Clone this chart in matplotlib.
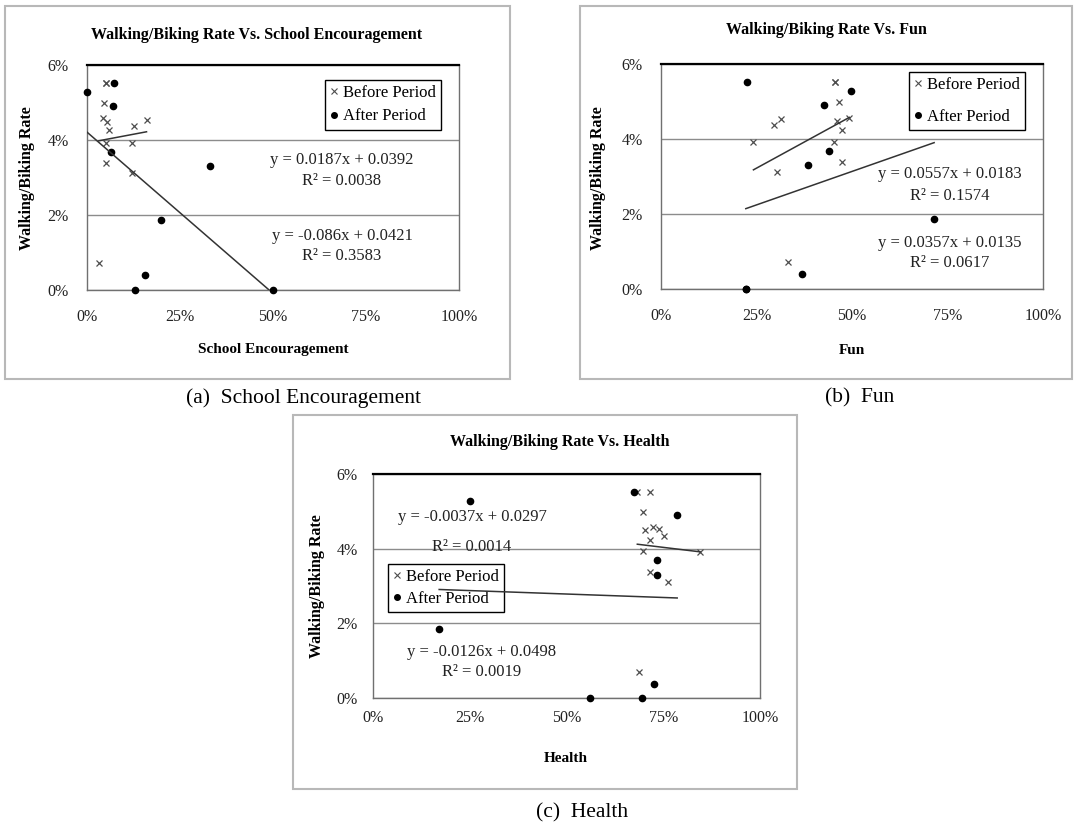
import numpy as np
import matplotlib
matplotlib.use('Agg')
import matplotlib.pyplot as plt
from matplotlib.patches import Rectangle
from matplotlib.ticker import PercentFormatter
from matplotlib.lines import Line2D

plt.rcParams['font.family'] = ['Liberation Serif', 'DejaVu Serif']

W, H = 1074, 826

#%% data (x = share of answers, y = walking/biking rate)
school_before_x = [0.051, 0.051, 0.047, 0.044, 0.055, 0.059, 0.051, 0.051, 0.125, 0.160, 0.122, 0.122, 0.032]
school_before_y = [0.0553, 0.0553, 0.0498, 0.0458, 0.0449, 0.0427, 0.0393, 0.0338, 0.0436, 0.0453, 0.0393, 0.0311, 0.0071]
school_after_x = [0.0, 0.073, 0.071, 0.064, 0.331, 0.199, 0.157, 0.129, 0.501]
school_after_y = [0.0529, 0.0553, 0.0491, 0.0369, 0.0331, 0.0188, 0.0039, 0.0, 0.0]

fun_before_x = [0.456, 0.456, 0.467, 0.313, 0.460, 0.474, 0.242, 0.454, 0.474, 0.296, 0.493, 0.303, 0.333]
fun_before_y = [0.0553, 0.0553, 0.0498, 0.0453, 0.0449, 0.0425, 0.0393, 0.0393, 0.0338, 0.0436, 0.0456, 0.0311, 0.0071]
fun_after_x = [0.224, 0.497, 0.427, 0.441, 0.384, 0.715, 0.368, 0.222, 0.222]
fun_after_y = [0.0553, 0.0528, 0.0491, 0.0369, 0.0331, 0.0188, 0.0039, 0.0, 0.0]

health_before_x = [0.683, 0.716, 0.698, 0.703, 0.723, 0.740, 0.753, 0.716, 0.698, 0.845, 0.716, 0.763, 0.688]
health_before_y = [0.0553, 0.0551, 0.0499, 0.0451, 0.0457, 0.0453, 0.0435, 0.0424, 0.0393, 0.0391, 0.0338, 0.0310, 0.0069]
health_after_x = [0.251, 0.674, 0.786, 0.733, 0.733, 0.171, 0.727, 0.561, 0.696]
health_after_y = [0.0529, 0.0553, 0.0491, 0.0369, 0.0330, 0.0186, 0.0038, 0.0, 0.0]

#trendlines (slope, intercept, R2) as printed on the chart
school_fit_before = (0.0187, 0.0392, '0.0038')
school_fit_after = (-0.086, 0.0421, '0.3583')
fun_fit_before = (0.0557, 0.0183, '0.1574')
fun_fit_after = (0.0357, 0.0135, '0.0617')
health_fit_before = (-0.0126, 0.0498, '0.0019')
health_fit_after = (-0.0037, 0.0297, '0.0014')

titles = ['Walking/Biking Rate Vs. School Encouragement',
          'Walking/Biking Rate Vs. Fun',
          'Walking/Biking Rate Vs. Health']
xlabels = ['School Encouragement', 'Fun', 'Health']
captions = ['(a)  School Encouragement', '(b)  Fun', '(c)  Health']
xticks = [0, 0.25, 0.5, 0.75, 1.0]
yticks = [0, 0.02, 0.04, 0.06]

#%% helpers, pixel -> figure fraction
def fx(px):
    return px/W

def fy(py):
    return 1 - py/H

def eq_text(fit):
    m, b, r2 = fit
    return 'y = %gx + %g' % (m, b), 'R² = ' + r2

fig = plt.figure(figsize=(W/100, H/100), dpi=100)

#panel layout in pixels: plot area, chart frame, text anchors
panels = [
    dict(area=(87, 65, 459, 290), frame=(5, 6, 510, 379), title=(257, 35), ylab=(27, 178),
         xlab=(273, 350), cap=(304, 398), xpad=14, ypad=13,
         leg=(325, 80), legsp=0.45,
         eqb=(342, 160, 181), eqa=(342, 236, 256),
         bx=school_before_x, by=school_before_y, ax_=school_after_x, ay=school_after_y,
         fb=school_fit_before, fa=school_fit_after),
    dict(area=(661, 64, 1043, 289), frame=(580, 6, 1072, 379), title=(826, 30), ylab=(598, 178),
         xlab=(852, 350), cap=(860, 398), xpad=14, ypad=13,
         leg=(909, 72), legsp=0.95,
         eqb=(950, 174, 196), eqa=(950, 243, 263),
         bx=fun_before_x, by=fun_before_y, ax_=fun_after_x, ay=fun_after_y,
         fb=fun_fit_before, fa=fun_fit_after),
    dict(area=(373, 474, 760, 698), frame=(293, 415, 797, 789), title=(560, 442), ylab=(317, 586),
         xlab=(566, 758), cap=(582, 813), xpad=9, ypad=11,
         leg=(388, 564), legsp=0.35,
         eqb=(482, 652, 672), eqa=(472, 517, 547),
         bx=health_before_x, by=health_before_y, ax_=health_after_x, ay=health_after_y,
         fb=health_fit_before, fa=health_fit_after),
]

for i, p in enumerate(panels):
    #grey chart frame
    x0, y0, x1, y1 = p['frame']
    fig.patches.append(Rectangle((fx(x0), fy(y1)), fx(x1)-fx(x0), fy(y0)-fy(y1),
                                 transform=fig.transFigure, fill=False,
                                 edgecolor='#b8b8b8', lw=1.5))

    l, t, r, b = p['area']
    ax = fig.add_axes([fx(l), fy(b), fx(r)-fx(l), fy(t)-fy(b)])
    ax.set_xlim(0, 1)
    ax.set_ylim(0, 0.06)
    ax.set_xticks(xticks)
    ax.set_yticks(yticks)
    ax.xaxis.set_major_formatter(PercentFormatter(xmax=1, decimals=0))
    ax.yaxis.set_major_formatter(PercentFormatter(xmax=1, decimals=0))
    ax.tick_params(length=0, labelsize=11.5)
    ax.tick_params(axis='x', pad=p['xpad'])
    ax.tick_params(axis='y', pad=p['ypad'])
    for lab in ax.get_xticklabels() + ax.get_yticklabels():
        lab.set_color('#222222')
    ax.grid(axis='y', color='#8c8c8c', lw=1)
    ax.set_axisbelow(True)
    ax.spines['top'].set_color('black')
    ax.spines['top'].set_linewidth(1.6)
    for s in ['left', 'right', 'bottom']:
        ax.spines[s].set_color('#707070')
        ax.spines[s].set_linewidth(1)

    ax.plot(p['bx'], p['by'], ls='none', marker='x', ms=5, mew=0.9, color='#4d4d4d', clip_on=False, zorder=3)
    ax.plot(p['ax_'], p['ay'], ls='none', marker='o', ms=4.5, color='black', clip_on=False, zorder=3)

    #linear trendlines over each series' x range
    for xs, fit in [(p['bx'], p['fb']), (p['ax_'], p['fa'])]:
        xx = np.array([min(xs), max(xs)])
        ax.plot(xx, fit[0]*xx + fit[1], color='#333333', lw=1.1, zorder=3)

    #legend (kept under the trendlines, as in the original)
    handles = [Line2D([], [], ls='none', marker='x', ms=4, mew=0.8, color='#4d4d4d'),
               Line2D([], [], ls='none', marker='o', ms=4, color='black')]
    leg = ax.legend(handles, ['Before Period', 'After Period'], loc='upper left',
                    bbox_to_anchor=(fx(p['leg'][0]), fy(p['leg'][1])),
                    bbox_transform=fig.transFigure, borderaxespad=0,
                    fancybox=False, framealpha=1, edgecolor='black', fontsize=12,
                    handlelength=0.5, handletextpad=0.3, labelspacing=p['legsp'],
                    borderpad=0.3)
    leg.get_frame().set_linewidth(1)
    leg.set_zorder(2)

    #trendline equations
    for key, fit in [('eqb', p['fb']), ('eqa', p['fa'])]:
        ex, ey1, ey2 = p[key]
        s1, s2 = eq_text(fit)
        fig.text(fx(ex), fy(ey1), s1, ha='center', va='center', fontsize=12, color='#222222')
        fig.text(fx(ex), fy(ey2), s2, ha='center', va='center', fontsize=12, color='#222222')

    fig.text(fx(p['title'][0]), fy(p['title'][1]), titles[i], ha='center', va='center',
             fontsize=11.5, fontweight='bold')
    fig.text(fx(p['ylab'][0]), fy(p['ylab'][1]), 'Walking/Biking Rate', ha='center', va='center',
             rotation=90, fontsize=11.5, fontweight='bold')
    fig.text(fx(p['xlab'][0]), fy(p['xlab'][1]), xlabels[i], ha='center', va='center',
             fontsize=11, fontweight='bold')
    fig.text(fx(p['cap'][0]), fy(p['cap'][1]), captions[i], ha='center', va='center',
             fontsize=15.5)

plt.savefig('out.png', dpi=100)
